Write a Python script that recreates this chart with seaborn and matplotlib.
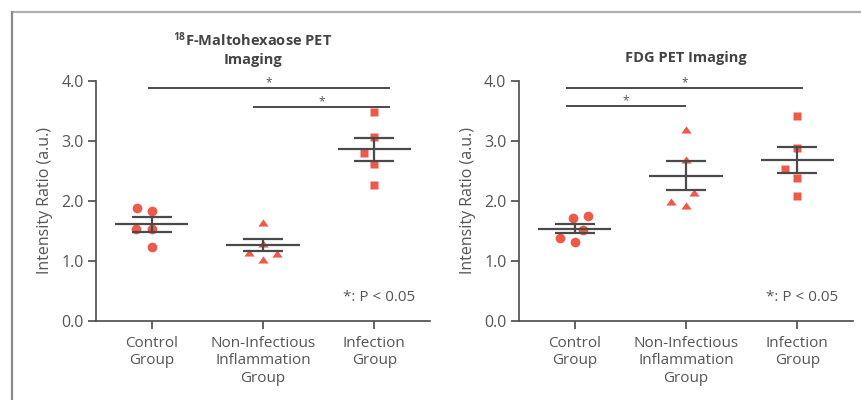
import numpy as np
import seaborn as sns
import matplotlib.pyplot as plt
from matplotlib.lines import Line2D
from matplotlib.ticker import FormatStrFormatter

groups = ["Control\nGroup", "Non-Infectious\nInflammation\nGroup", "Infection\nGroup"]

# 18F-Maltohexaose PET imaging
malto_control = [1.23, 1.54, 1.54, 1.83, 1.89]
malto_noninf = [1.02, 1.12, 1.13, 1.28, 1.63]
malto_infection = [2.27, 2.62, 2.80, 3.07, 3.48]
malto_mean = [1.61, 1.27, 2.86]
malto_sem = [0.12, 0.105, 0.19]
malto_sig = [(-0.03, 2.14, 3.88), (0.91, 2.14, 3.56)]

# FDG PET imaging
fdg_control = [1.31, 1.38, 1.52, 1.71, 1.75]
fdg_noninf = [1.92, 1.99, 2.13, 2.68, 3.19]
fdg_infection = [2.09, 2.38, 2.53, 2.88, 3.41]
fdg_mean = [1.54, 2.42, 2.68]
fdg_sem = [0.07, 0.24, 0.22]
fdg_sig = [(-0.08, 2.05, 3.88), (-0.08, 1.00, 3.58)]

red = "#ee5a4a"
dark = "#4a4a4a"
txt = "#555555"

sns.set_theme(style="ticks")
plt.rcParams["font.family"] = ["Open Sans", "DejaVu Sans"]
plt.rcParams["mathtext.default"] = "regular"

tri = [(-1, -0.6), (1, -0.6), (0, 0.8)]
shapes = ["o", tri, "s"]
msize = [7.0, 7.4, 5.5]
spacing = [3.6, 3.2, 5.1]  # invisible edge width, widens the swarm spacing


def draw_panel(ax, samples, mean, sem, sig, title, title_x, title_pad):
    for i, vals in enumerate(samples):
        sns.swarmplot(x=[groups[i]] * len(vals), y=vals, order=groups, ax=ax,
                      marker=shapes[i], size=msize[i], color=red,
                      edgecolor=(0, 0, 0, 0), linewidth=spacing[i], zorder=2)
    xs = np.arange(len(groups))
    ax.hlines(mean, xs - 0.33, xs + 0.33, color=dark, lw=1.6, zorder=3)
    ax.errorbar(xs, mean, yerr=sem, fmt="none", ecolor=dark, elinewidth=1.6,
                capsize=14.5, capthick=1.6, zorder=3)
    for lo, hi, h in sig:
        ax.plot([lo, hi], [h, h], color=dark, lw=1.4, solid_capstyle="butt")
        ax.text((lo + hi) / 2, h + 0.03, "*", ha="center", va="baseline",
                fontsize=8.5, color=txt)
    ax.text(0.955, 0.096, "*: P < 0.05", transform=ax.transAxes, ha="right",
            va="center", fontsize=11, color=txt)

    ax.set_xlim(-0.5, 2.5)
    ax.set_ylim(0, 4)
    ax.set_yticks([0, 1, 2, 3, 4])
    ax.yaxis.set_major_formatter(FormatStrFormatter("%.1f"))
    ax.set_xlabel("")
    ax.set_ylabel("Intensity Ratio (a.u.)", fontsize=11.5, color=txt, labelpad=6)
    ax.set_title(title, x=title_x, fontsize=10.5, fontweight="bold",
                 color="#444444", pad=title_pad, linespacing=1.35)
    sns.despine(ax=ax)
    for s in ["left", "bottom"]:
        ax.spines[s].set_color(dark)
        ax.spines[s].set_linewidth(1.2)
    ax.tick_params(axis="both", colors=dark, width=1.2, length=5.5,
                   labelcolor=txt)
    ax.tick_params(axis="y", pad=3.5, labelsize=11.5)
    ax.tick_params(axis="x", pad=5.5, labelsize=11)
    for lab in ax.get_xticklabels():
        lab.set_linespacing(1.2)


fig = plt.figure(figsize=(8.61, 4.0), dpi=100)
ax1 = fig.add_axes([96 / 861, 79 / 400, 334 / 861, 240 / 400])
ax2 = fig.add_axes([519 / 861, 79 / 400, 334 / 861, 240 / 400])

draw_panel(ax1, [malto_control, malto_noninf, malto_infection], malto_mean,
           malto_sem, malto_sig, "$^{18}$F-Maltohexaose PET\nImaging", 0.47, 12.5)
draw_panel(ax2, [fdg_control, fdg_noninf, fdg_infection], fdg_mean,
           fdg_sem, fdg_sig, "FDG PET Imaging", 0.5, 14)

# panel frame on the top and left edges
fig.add_artist(Line2D([12 / 861, 1], [1 - 12 / 400, 1 - 12 / 400],
                      transform=fig.transFigure, color="#b0b0b0", lw=1.6))
fig.add_artist(Line2D([12 / 861, 12 / 861], [0, 1 - 12 / 400],
                      transform=fig.transFigure, color="#8a8a8a", lw=1.6))

fig.savefig("out.png", dpi=100)
